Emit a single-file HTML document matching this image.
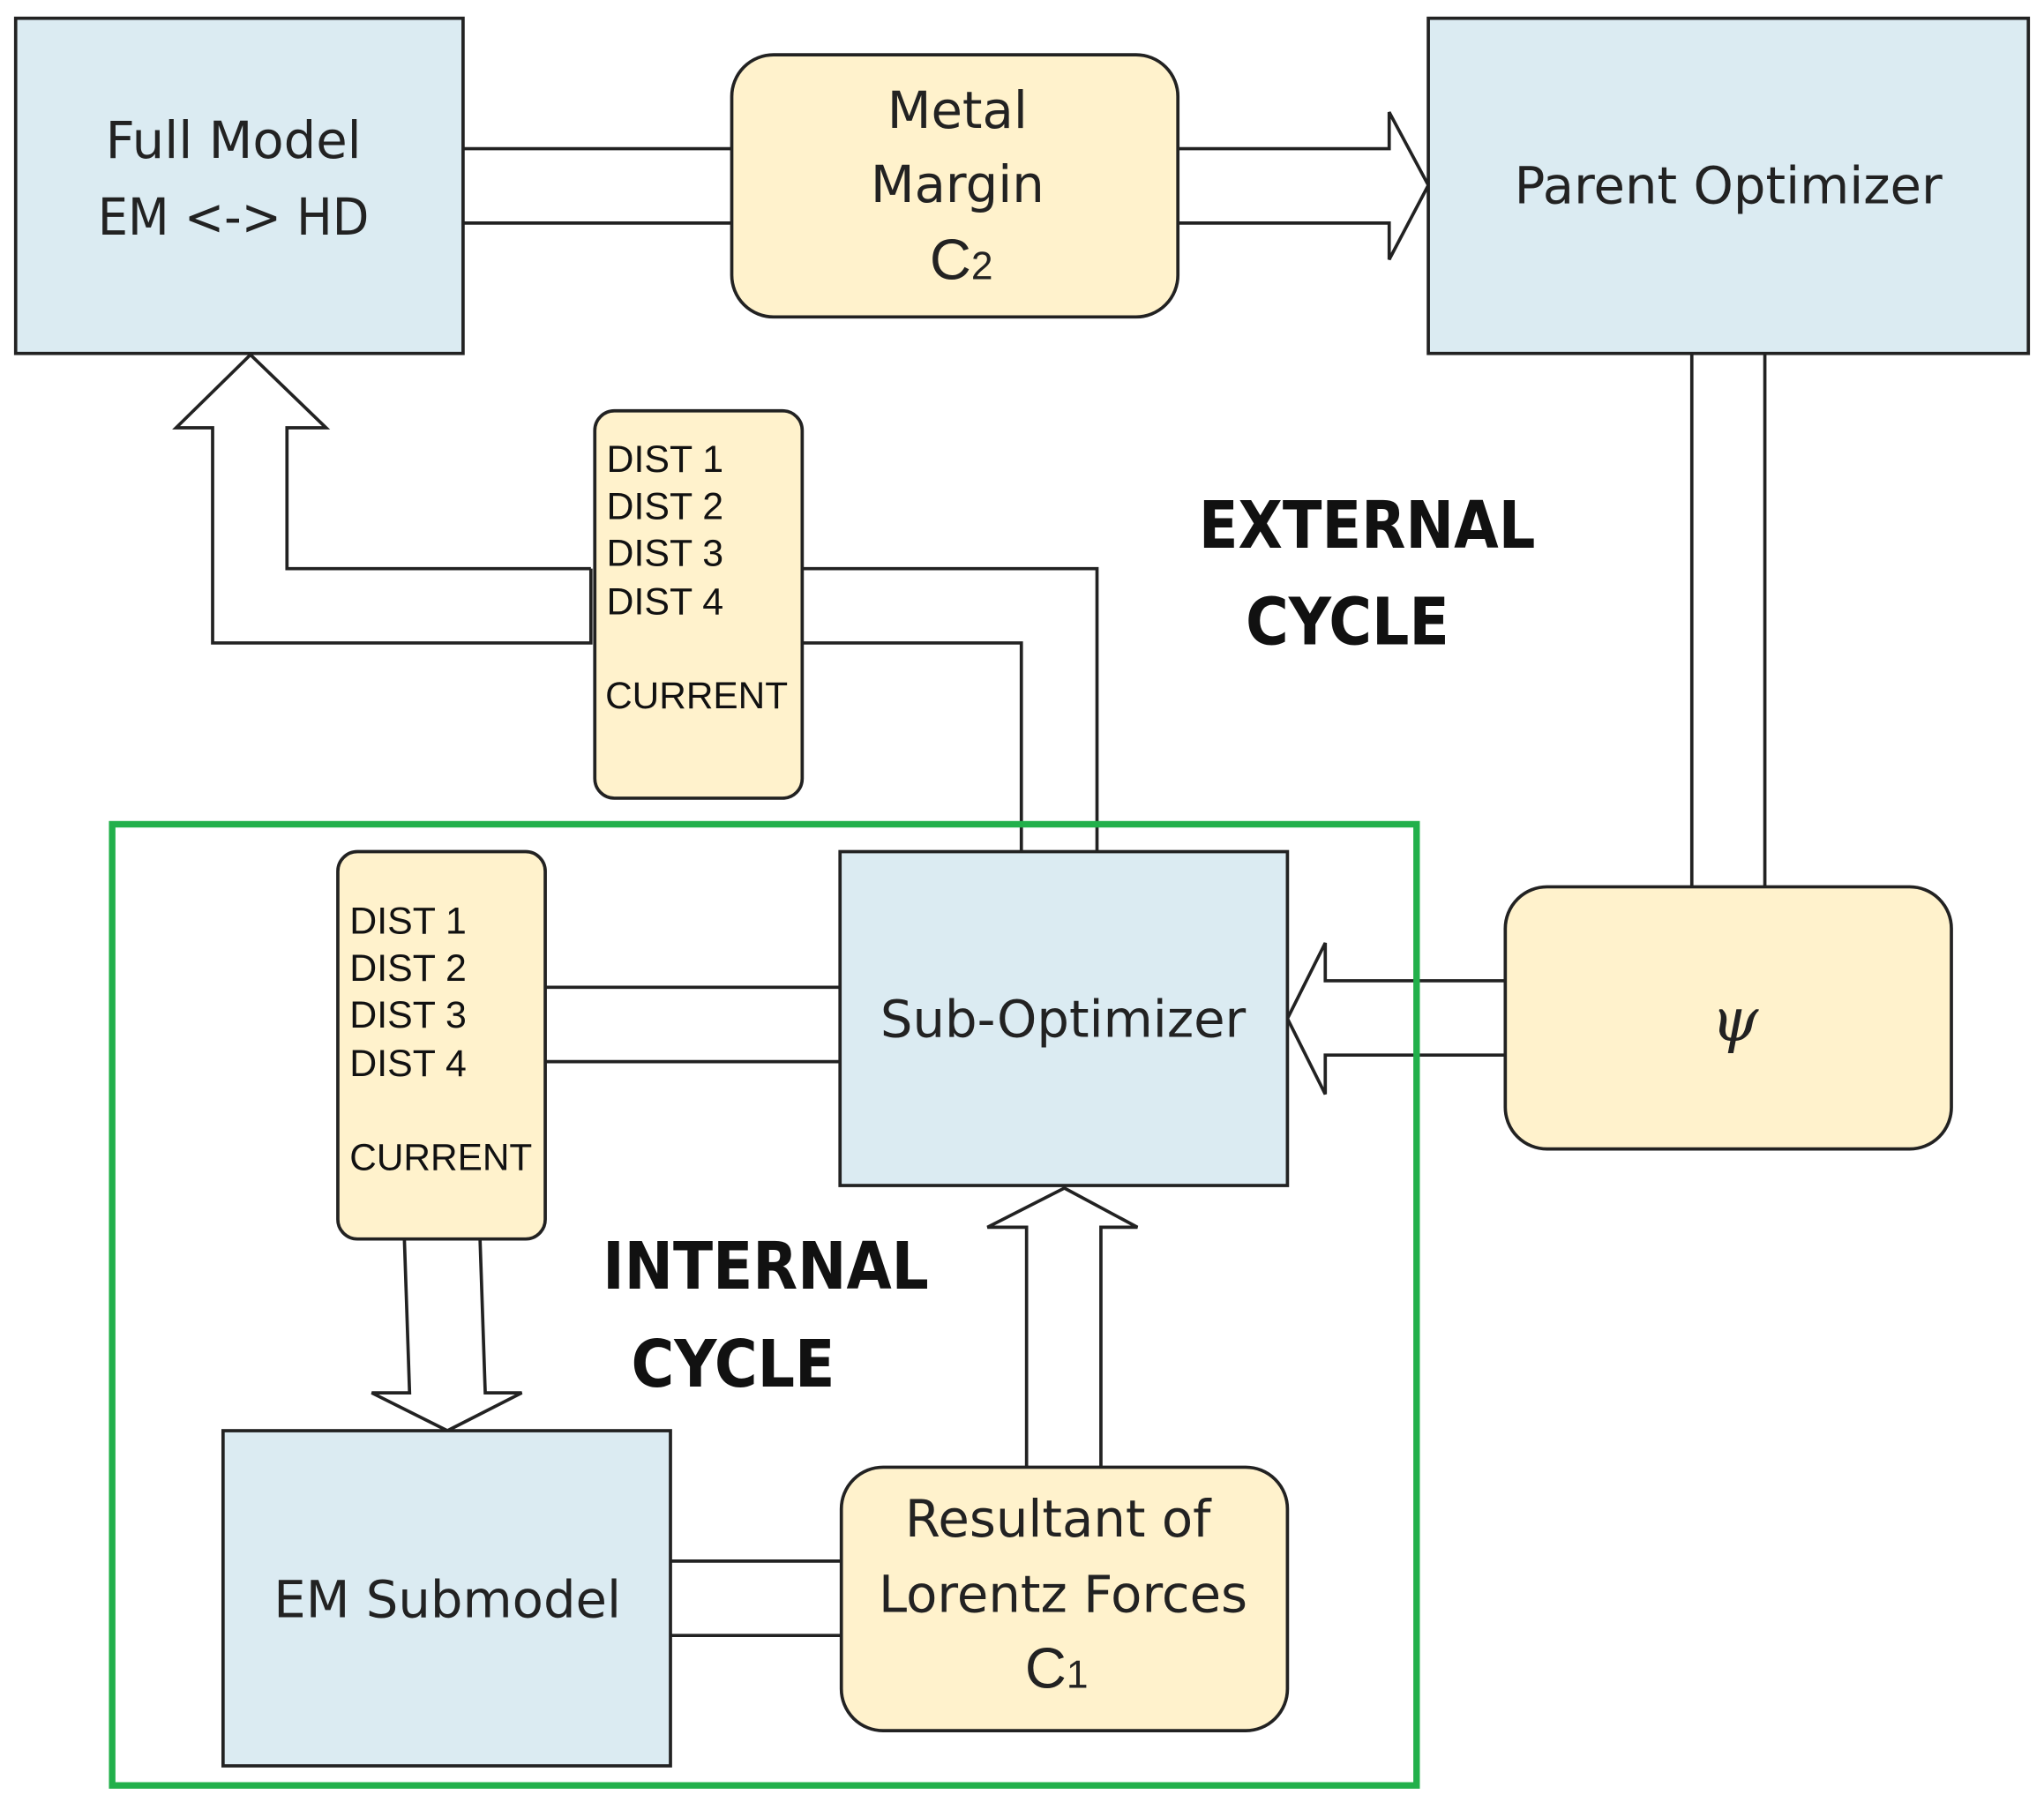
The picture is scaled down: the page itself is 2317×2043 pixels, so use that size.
<!DOCTYPE html>
<html><head><meta charset="utf-8"><style>html,body{margin:0;padding:0;background:#fff}svg{display:block}</style></head><body>
<svg width="2317" height="2043" viewBox="0 0 1567 1381.7" preserveAspectRatio="none" xmlns="http://www.w3.org/2000/svg" font-family="'DejaVu Sans','Liberation Sans',sans-serif">
<g fill="none" stroke="#222" stroke-width="2.5">
<line x1="355" y1="114" x2="561" y2="114"/><line x1="355" y1="171" x2="561" y2="171"/>
<polyline points="903,114 1065,114 1065,86 1095,142 1065,199 1065,171 903,171" fill="#fff"/>
<polyline points="453,436 220,436 220,328 250,328 192,272 135,328 163,328 163,493 453,493 453,436" fill="#fff"/>
<polyline points="615,436 841,436 841,653"/>
<polyline points="615,493 783,493 783,653"/>
<line x1="1297" y1="271" x2="1297" y2="680"/><line x1="1353" y1="271" x2="1353" y2="680"/>
<line x1="418" y1="757" x2="644" y2="757"/><line x1="418" y1="814" x2="644" y2="814"/>
<polyline points="1154,752 1016,752 1016,723 987,781 1016,839 1016,809 1154,809" fill="#fff"/>
<polyline points="787,1125 787,941 757,941 816,911 872,941 844,941 844,1125" fill="#fff"/>
<polyline points="310,950 314,1068 285,1068 343,1097 400,1068 372,1068 368,950" fill="#fff"/>
<line x1="514" y1="1197" x2="645" y2="1197"/><line x1="514" y1="1254" x2="645" y2="1254"/>
</g>
<rect x="86" y="632" width="1000" height="737" fill="none" stroke="#22b04b" stroke-width="5"/>
<g stroke="#222" stroke-width="2.5">
<rect x="12" y="14" width="343" height="257" fill="#dbebf2"/>
<rect x="561" y="42" width="342" height="201" rx="32" fill="#fff2cc"/>
<rect x="1095" y="14" width="460" height="257" fill="#dbebf2"/>
<rect x="456" y="315" width="159" height="297" rx="15" fill="#fff2cc"/>
<rect x="259" y="653" width="159" height="297" rx="15" fill="#fff2cc"/>
<rect x="644" y="653" width="343" height="256" fill="#dbebf2"/>
<rect x="1154" y="680" width="342" height="201" rx="32" fill="#fff2cc"/>
<rect x="171" y="1097" width="343" height="257" fill="#dbebf2"/>
<rect x="645" y="1125" width="342" height="202" rx="32" fill="#fff2cc"/>
</g>
<g fill="#222" font-size="39" text-anchor="middle">
<text x="179" y="121">Full Model</text>
<text x="179" y="180" textLength="208" lengthAdjust="spacingAndGlyphs">EM &lt;-&gt; HD</text>
<text x="734" y="98">Metal</text>
<text x="734" y="155">Margin</text>
<text x="737" y="214" font-family="'Liberation Sans',sans-serif" font-size="44">C<tspan font-size="30">2</tspan></text>
<text x="1325" y="156">Parent Optimizer</text>
<text x="815" y="795">Sub-Optimizer</text>
<text x="1330" y="798" font-family="'DejaVu Serif',serif" font-style="italic" font-size="46">ψ</text>
<text x="343" y="1240">EM Submodel</text>
<text x="811" y="1178">Resultant of</text>
<text x="815" y="1236">Lorentz Forces</text>
<text x="810" y="1294" font-family="'Liberation Sans',sans-serif" font-size="44">C<tspan font-size="30">1</tspan></text>
</g>
<g fill="#111" font-size="29" font-family="'Liberation Sans',sans-serif">
<text x="465" y="362">DIST 1</text><text x="465" y="398">DIST 2</text><text x="465" y="434">DIST 3</text><text x="465" y="471">DIST 4</text><text x="464" y="543" textLength="140" lengthAdjust="spacingAndGlyphs">CURRENT</text>
<text x="268" y="716">DIST 1</text><text x="268" y="752">DIST 2</text><text x="268" y="788">DIST 3</text><text x="268" y="825">DIST 4</text><text x="268" y="897" textLength="140" lengthAdjust="spacingAndGlyphs">CURRENT</text>
</g>
<g fill="#111" font-size="50" font-weight="bold" text-anchor="middle" font-family="'DejaVu Sans Condensed','DejaVu Sans',sans-serif">
<text x="1048" y="420" textLength="258" lengthAdjust="spacingAndGlyphs">EXTERNAL</text><text x="1033" y="494">CYCLE</text>
<text x="587" y="988" textLength="250" lengthAdjust="spacingAndGlyphs">INTERNAL</text><text x="562" y="1063">CYCLE</text>
</g>
</svg>
</body></html>
